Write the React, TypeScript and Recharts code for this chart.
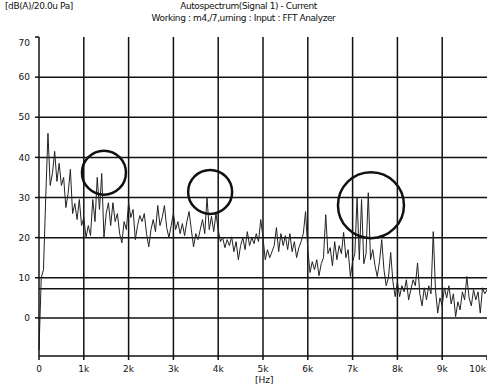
import { CartesianGrid, Line, LineChart, ReferenceDot, ReferenceLine, XAxis, YAxis } from "recharts";

// spectrum level in dB(A), one reading every 50 Hz from 0 Hz to 10 kHz
const freqStep = 50;
const level = [
  -8, 10, 12, 30, 46, 33, 36, 41.5, 34, 38.5, 33, 35, 27.5, 31, 37, 26, 28.5, 24.5, 29.5, 23, 25,
  20, 23, 20.5, 29.5, 24, 35, 27, 36, 20, 26, 28.7, 23, 28.7, 24, 26, 21, 18.7, 24, 22, 28.7,
  25, 27, 19.5, 23, 25.5, 24, 26, 21, 17.7, 22, 24.5, 21.5, 28, 23, 25, 28, 22.5, 20, 23, 26,
  22, 24, 21, 23.5, 20.5, 24, 26.5, 22, 17.7, 21, 19.5, 22, 24.5, 21, 30, 22, 25.3, 21.5, 26, 22,
  19, 20, 17.5, 19.5, 18, 20.2, 16.5, 19, 14.5, 18, 20, 17, 21.5, 18, 20, 18.5, 21, 19, 24.5, 20,
  14.5, 17, 15, 16.5, 18, 22.5, 16.5, 21, 18, 20.5, 17, 21, 16.5, 19, 15, 17.5, 19, 21, 26.5, 17,
  11.3, 14, 12, 14.5, 10.5, 13.5, 15, 25.7, 16, 17.5, 13, 19, 14.5, 18, 16, 21.3, 15, 17, 10.3, 14,
  16, 30, 14.5, 29.5, 13.5, 16, 31.2, 14.5, 17, 13, 10.3, 14, 19.5, 12, 8, 10, 16.3, 9, 5.3, 9,
  5.3, 8, 6.5, 9.5, 4.5, 7, 9.5, 8, 13.7, 6, 3, 7.5, 4.5, 8, 6, 21.5, 7, 1.2, 5, 3,
  7.5, 5, 8, 3.5, 6, 0.3, 4, 2, 6.5, 4.5, 10.3, 5, 3, 7, 4.5, 6.5, 1.2, 7.5, 6, 7,
];

const xTicks = [0, 1000, 2000, 3000, 4000, 5000, 6000, 7000, 8000, 9000, 10000];
const yTicks = [0, 10, 20, 30, 40, 50, 60, 70];
const gridY = [0, 10, 20, 30, 40, 50, 60];
const gridX = [1000, 2000, 3000, 4000, 5000, 6000, 7000, 8000, 9000];

// hand-drawn annotation circles: [freq, dB, radius px]
const marks: [number, number, number][] = [
  [1450, 36.2, 22],
  [3820, 31.4, 22],
  [7410, 28.1, 33],
];

const data = level.map((v, i) => ({ f: i * freqStep, v }));
const ink = "#111";
const font = "'DejaVu Sans', sans-serif";

function kHz(v: number): string {
  return v === 0 ? "0" : `${v / 1000}k`;
}

// last label sits flush against the right edge, like the analyzer printout
function FreqTick({ x, y, payload }: any) {
  const last = payload.value === 10000;
  return (
    <text x={last ? x - 1 : x} y={y} dy="0.71em" textAnchor={last ? "end" : "middle"} fontSize={9} fill={ink} fontFamily={font}>
      {kHz(payload.value)}
    </text>
  );
}

// the top label is printed a little under the axis end
function LevelTick({ x, y, payload }: any) {
  const top = payload.value === 70;
  return (
    <text x={x} y={top ? y + 6 : y} dy="0.355em" textAnchor="end" fontSize={9} fill={ink} fontFamily={font}>
      {payload.value}
    </text>
  );
}

export default function App() {
  return (
    <div style={{ position: "absolute", left: 0, top: 0, width: 487, height: 388, background: "#fff", fontFamily: font, color: ink }}>
      <div style={{ position: "absolute", left: 5, top: 1, fontSize: 9, letterSpacing: -0.4 }}>[dB(A)/20.0u Pa]</div>
      <div style={{ position: "absolute", left: 0, width: 487, top: 1, textAlign: "center", fontSize: 9, letterSpacing: -0.4, paddingLeft: 10, boxSizing: "border-box" }}>
        Autospectrum(Signal 1) - Current
      </div>
      <div style={{ position: "absolute", left: 0, width: 487, top: 13, textAlign: "center", fontSize: 9, letterSpacing: -0.4, boxSizing: "border-box" }}>
        Working : m4,/7,urning : Input : FFT Analyzer
      </div>
      <div style={{ position: "absolute", left: 255, top: 375, fontSize: 9 }}>[Hz]</div>
      <LineChart width={487} height={388} data={data} margin={{ top: 37, right: 0, bottom: 0, left: 0 }}>
        <CartesianGrid stroke={ink} strokeWidth={1.5} horizontalValues={gridY} verticalValues={gridX} />
        <XAxis
          dataKey="f"
          type="number"
          domain={[0, 10000]}
          ticks={xTicks}
          tick={<FreqTick />}
          height={32}
          stroke={ink}
          strokeWidth={1.5}
          tickSize={4}
          tickMargin={6}
          interval={0}
        />
        <YAxis
          type="number"
          domain={[-9.5, 70]}
          ticks={yTicks}
          tick={<LevelTick />}
          width={39}
          stroke={ink}
          strokeWidth={1.5}
          tickSize={4}
          tickMargin={5}
          interval={0}
          allowDataOverflow
        />
        <ReferenceLine y={7.25} stroke={ink} strokeWidth={1.5} />
        <Line type="linear" dataKey="v" stroke="#222" strokeWidth={1} dot={false} isAnimationActive={false} />
        {marks.map(([f, db, r], i) => (
          <ReferenceDot key={i} x={f} y={db} r={r} fill="none" stroke={ink} strokeWidth={2.5} />
        ))}
      </LineChart>
    </div>
  );
}
